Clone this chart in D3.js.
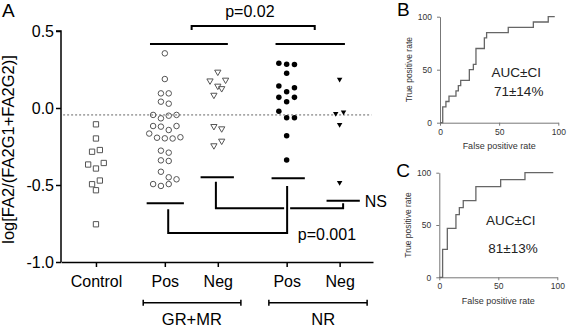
<!DOCTYPE html>
<html>
<head>
<meta charset="utf-8">
<script src="https://cdn.jsdelivr.net/npm/d3@7.9.0/dist/d3.min.js"></script>
<style>
body { margin: 0; background: #fff; }
svg { display: block; font-family: "Liberation Sans", Arial, sans-serif; }
</style>
</head>
<body>
<svg id="chart" width="567" height="329"></svg>
<script>
// categories on the x axis and their slot positions (column units)
const categories = ["Control", "Pos", "Neg", "Pos", "Neg"];
const slots = [0, 1.3, 2.3, 3.6, 4.6];
const yTicks = [0.5, 0.0, -0.5, -1.0];

// log ratio values, listed top to bottom (left to right inside a row)
const controlVals = [-0.106, -0.198, -0.284, -0.273, -0.367, -0.393, -0.357, -0.495, -0.471, -0.534, -0.755];
const grmrPosVals = [0.355, 0.188, 0.095, 0.095, 0.041, 0.028,
  -0.045, -0.067, -0.050, -0.045, -0.117, -0.121, -0.143, -0.117,
  -0.166, -0.193, -0.197, -0.198, -0.190, -0.277, -0.290, -0.340, -0.344,
  -0.414, -0.450, -0.494, -0.506, -0.494, -0.463];
const grmrNegVals = [0.234, 0.177, 0.143, 0.182, 0.084, 0.127, -0.119, -0.134, -0.244, -0.214];
const nrPosVals = [0.290, 0.284, 0.283, 0.225, 0.143, 0.106, 0.132, 0.069, 0.041, 0.069,
  -0.021, -0.063, -0.063, -0.180, -0.338];
const nrNegVals = [0.186, -0.036, -0.027, -0.107, -0.485];
const cutoff = -0.045;

// ROC curves (false positive rate, true positive rate)
const rocB_fpr = [0, 2.3, 5, 7.6, 13.5, 15.5, 17.5, 24.8, 28.2, 30.4, 37.5, 39.4, 57.7, 78.9, 91.5, 97];
const rocB_tpr = [0, 15, 20, 25, 30, 35, 40, 50, 55, 70, 80, 85, 90, 95, 100, 100];
const rocC_fpr = [0, 2.8, 6.8, 14.1, 17, 20.3, 31, 52, 72.6, 96.6];
const rocC_tpr = [0, 26.7, 46.7, 60, 66.7, 73.3, 86.7, 93.3, 100, 100];

const svg = d3.select("#chart");
const black = "#000";

// ---------- panel A ----------
const x = d3.scaleLinear().domain([-0.66, 5.23]).range([61, 373]);
const y = d3.scaleLinear().domain([-1, 0.5]).range([262, 31]);

const g = svg.append("g");

g.append("text").attr("x", 2).attr("y", 17).attr("font-size", 19).text("A");

let yAxis = g.append("g").attr("transform", `translate(${x(-0.66)},0)`)
  .call(d3.axisLeft(y).tickValues(yTicks).tickSize(5).tickPadding(2).tickFormat(d => d.toFixed(1)));
yAxis.selectAll("path, line").attr("stroke-width", 1.5);
yAxis.selectAll("text").attr("font-size", 16).attr("fill", black);
yAxis.select(".domain").attr("d", `M-5,${y(0.5)}H0V${y(-1)}`);

let xAxis = g.append("g").attr("transform", `translate(0,${y(-1)})`)
  .call(d3.axisBottom(x).tickValues(slots).tickSize(5).tickPadding(9).tickSizeOuter(0)
    .tickFormat((d, i) => categories[i]));
xAxis.selectAll("path, line").attr("stroke-width", 1.5);
xAxis.selectAll("text").attr("font-size", 16).attr("fill", black);

g.append("text")
  .attr("transform", `translate(14,${(y(0.5) + y(-1)) / 2 + 3}) rotate(-90)`)
  .attr("text-anchor", "middle").attr("font-size", 16.5)
  .text("log[FA2/(FA2G1+FA2G2)]");

// dashed cut-off
g.append("line")
  .attr("x1", x(-0.62)).attr("x2", x(5.2))
  .attr("y1", y(cutoff)).attr("y2", y(cutoff))
  .attr("stroke", "#666").attr("stroke-width", 1).attr("stroke-dasharray", "2,2");

// rows of points: consecutive values closer than thresh px share a row
function swarm(values, spacing, thresh) {
  const out = [];
  let row = [];
  const flush = () => {
    row.forEach((p, i) => out.push({ v: p.v, py: p.py, dx: (i - (row.length - 1) / 2) * spacing }));
    row = [];
  };
  values.forEach(v => {
    const py = y(v);
    const ys = row.map(p => p.py).concat(py);
    if (row.length && d3.max(ys) - d3.min(ys) >= thresh) flush();
    row.push({ v, py });
  });
  flush();
  return out;
}

const series = [
  { vals: controlVals, slot: slots[0], type: d3.symbolSquare, size: 28, fill: "none", stroke: "#555", rot: 0 },
  { vals: grmrPosVals, slot: slots[1], type: d3.symbolCircle, size: 24, fill: "none", stroke: "#555", rot: 0 },
  { vals: grmrNegVals, slot: slots[2], type: d3.symbolTriangle, size: 17, fill: "none", stroke: "#555", rot: 180 },
  { vals: nrPosVals, slot: slots[3], type: d3.symbolCircle, size: 24, fill: black, stroke: "none", rot: 0 },
  { vals: nrNegVals, slot: slots[4], type: d3.symbolTriangle, size: 13, fill: black, stroke: "none", rot: 180 }
];

series.forEach(s => {
  g.append("g").selectAll("path")
    .data(swarm(s.vals, 7.8, 7.2))
    .enter().append("path")
    .attr("d", d3.symbol().type(s.type).size(s.size))
    .attr("transform", d => `translate(${x(s.slot) + d.dx},${d.py}) rotate(${s.rot})`)
    .attr("fill", s.fill)
    .attr("stroke", s.stroke)
    .attr("stroke-width", 1);
});

// annotation lines
const ann = g.append("g").attr("stroke", black).attr("stroke-width", 2).attr("fill", "none");
function seg(x0, y0, x1, y1) {
  ann.append("line").attr("x1", x(x0)).attr("y1", y(y0)).attr("x2", x(x1)).attr("y2", y(y1));
}
// upper group lines and p=0.02 bracket
seg(1.02, 0.416, 2.49, 0.416);
seg(3.39, 0.416, 4.70, 0.416);
ann.append("path").attr("d",
  `M${x(1.806)},${y(0.506)}V${y(0.532)}H${x(4.13)}V${y(0.506)}`);

// lower lines for each column
seg(0.957, -0.619, 1.66, -0.619);
seg(1.975, -0.45, 2.604, -0.45);
seg(3.315, -0.456, 3.943, -0.456);
seg(4.353, -0.602, 4.981, -0.602);

// p=0.001 connector
ann.append("path").attr("d",
  `M${x(1.364)},${y(-0.658)}V${y(-0.812)}H${x(3.609)}V${y(-0.506)}`);
// NS connector (with a small gap where it crosses)
ann.append("path").attr("d",
  `M${x(2.264)},${y(-0.479)}V${y(-0.651)}H${x(3.609) - 3}M${x(3.609) + 3},${y(-0.651)}H${x(4.666)}V${y(-0.619)}`);

g.append("text").attr("x", x(2.906)).attr("y", y(0.594)).attr("text-anchor", "middle")
  .attr("font-size", 16).text("p=0.02");
g.append("text").attr("x", x(3.81)).attr("y", y(-0.857))
  .attr("font-size", 16).text("p=0.001");
g.append("text").attr("x", x(5.075)).attr("y", y(-0.641))
  .attr("font-size", 16).text("NS");

// grouping brackets under the axis
const groups = [
  { label: "GR+MR", from: 0.892, to: 2.736, mid: 1.81 },
  { label: "NR", from: 3.264, to: 5.119, mid: 4.29 }
];
const gy = y(-1) + 40.7;
groups.forEach(gr => {
  g.append("path")
    .attr("d", `M${x(gr.from)},${gy - 3}V${gy + 3}M${x(gr.from)},${gy}H${x(gr.to)}M${x(gr.to)},${gy - 3}V${gy + 3}`)
    .attr("stroke", black).attr("stroke-width", 1.5).attr("fill", "none");
  g.append("text").attr("x", x(gr.mid)).attr("y", 325).attr("text-anchor", "middle")
    .attr("font-size", 16.5).text(gr.label);
});

// ---------- ROC panels ----------
function drawRoc(box, fpr, tpr, letter, auc) {
  const rx = d3.scaleLinear().domain([0, 100]).range([box.x0, box.x1]);
  const ry = d3.scaleLinear().domain([0, 100]).range([box.y0, box.y1]);
  const p = svg.append("g");

  p.append("text").attr("x", box.x0 - 43).attr("y", box.y1 + (letter === "B" ? -1 : 4))
    .attr("font-size", 19).text(letter);

  let ax = p.append("g").attr("transform", `translate(0,${box.y0})`)
    .call(d3.axisBottom(rx).tickValues([0, 50, 100]).tickSize(3).tickPadding(3).tickSizeOuter(0));
  let ay = p.append("g").attr("transform", `translate(${box.x0},0)`)
    .call(d3.axisLeft(ry).tickValues([0, 50, 100]).tickSize(3).tickPadding(5).tickSizeOuter(0));
  [ax, ay].forEach(a => {
    a.selectAll("path, line").attr("stroke", "#777");
    a.selectAll("text").attr("font-size", 8.5).attr("fill", "#333");
  });

  p.append("text").attr("x", (box.x0 + box.x1) / 2).attr("y", box.y0 + 26.5)
    .attr("text-anchor", "middle").attr("font-size", 9).attr("fill", "#333")
    .text("False positive rate");
  p.append("text")
    .attr("transform", `translate(${box.x0 - 28},${(box.y0 + box.y1) / 2}) rotate(-90)`)
    .attr("text-anchor", "middle").attr("font-size", 8.5).attr("fill", "#333")
    .text("True positive rate");

  const pts = fpr.map((f, i) => [f, tpr[i]]);
  p.append("path")
    .datum(pts)
    .attr("fill", "none").attr("stroke", "#666").attr("stroke-width", 1.3)
    .attr("d", d3.line().x(d => rx(d[0])).y(d => ry(d[1])).curve(d3.curveStepAfter));

  p.append("text").attr("x", rx(auc.cx)).attr("y", ry(auc.line1)).attr("text-anchor", "middle")
    .attr("font-size", 13.5).attr("fill", "#222").text("AUC±CI");
  p.append("text").attr("x", rx(auc.cx + 2)).attr("y", ry(auc.line2)).attr("text-anchor", "middle")
    .attr("font-size", 13.5).attr("fill", "#222").text(auc.value);
}

drawRoc({ x0: 440, x1: 558.3, y0: 122.7, y1: 16.7 }, rocB_fpr, rocB_tpr, "B",
  { cx: 64.5, line1: 43, line2: 25, value: "71±14%" });
drawRoc({ x0: 439.3, x1: 557.3, y0: 277.3, y1: 172.7 }, rocC_fpr, rocC_tpr, "C",
  { cx: 60.5, line1: 50, line2: 23, value: "81±13%" });
</script>
</body>
</html>
